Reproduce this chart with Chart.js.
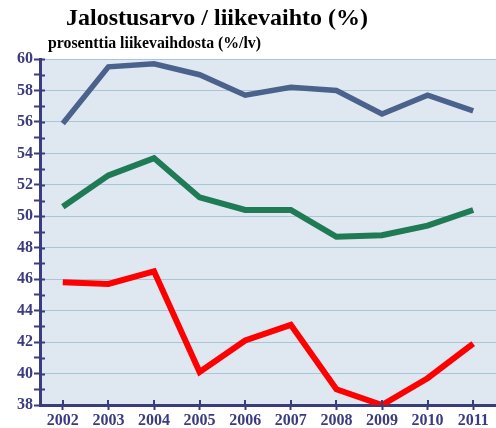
<!DOCTYPE html>
<html>
<head>
<meta charset="utf-8">
<script src="https://cdn.jsdelivr.net/npm/chart.js@4"></script>
<style>
  html, body { margin: 0; padding: 0; background: #fff; }
  #wrap { position: relative; width: 496px; height: 428px; }
  #title { position: absolute; left: 66px; top: 4px; font: bold 24px "Liberation Serif", "Times New Roman", serif; color: #000; white-space: nowrap; }
  #subtitle { position: absolute; left: 48px; top: 34px; font: bold 15.8px "Liberation Serif", "Times New Roman", serif; color: #000; white-space: nowrap; }
  canvas { position: absolute; left: 0; top: 0; }
</style>
</head>
<body>
<div id="wrap">
  <canvas id="chart" width="496" height="428"></canvas>
  <div id="title">Jalostusarvo / liikevaihto (%)</div>
  <div id="subtitle">prosenttia liikevaihdosta (%/lv)</div>
</div>
<script>
const years = ['2002', '2003', '2004', '2005', '2006', '2007', '2008', '2009', '2010', '2011'];
const seriesBlue = [55.9, 59.5, 59.7, 59.0, 57.7, 58.2, 58.0, 56.5, 57.7, 56.7];
const seriesGreen = [50.6, 52.6, 53.7, 51.2, 50.4, 50.4, 48.7, 48.8, 49.4, 50.4];
const seriesRed = [45.8, 45.7, 46.5, 40.1, 42.1, 43.1, 39.0, 38.0, 39.7, 41.9];
const yMin = 38;
const yMax = 60;

const axisColor = '#3b3b80';
const gridColor = '#a9c6d6';
const plotBg = '#dfe8f0';
const labelFont = { family: '"Liberation Serif", "Times New Roman", serif', size: 16, weight: 'bold' };

// fill the plot area and draw the short inward half of every tick mark
const plotDecor = {
  id: 'plotDecor',
  beforeDraw(chart) {
    const { ctx, chartArea: a } = chart;
    ctx.save();
    ctx.fillStyle = plotBg;
    ctx.fillRect(a.left, a.top, a.right - a.left, a.bottom - a.top);
    ctx.restore();
  },
  afterDraw(chart) {
    const { ctx, chartArea: a } = chart;
    const xs = chart.scales.x, ys = chart.scales.y;
    ctx.save();
    ctx.strokeStyle = axisColor;
    ctx.lineWidth = 2;
    ctx.beginPath();
    for (let v = yMin + 1; v <= yMax; v++) {
      const py = Math.round(ys.getPixelForValue(v)) + 0.5;
      ctx.moveTo(a.left, py);
      ctx.lineTo(a.left + 5, py);
    }
    years.forEach((y, i) => {
      const px = Math.round(xs.getPixelForValue(i));
      ctx.moveTo(px, a.bottom);
      ctx.lineTo(px, a.bottom - 5);
    });
    ctx.stroke();
    ctx.restore();
  }
};

const line = (data, color, width) => ({
  data: data,
  borderColor: color,
  borderWidth: width,
  pointRadius: 0,
  tension: 0,
  fill: false
});

new Chart(document.getElementById('chart'), {
  type: 'line',
  data: {
    labels: years,
    datasets: [
      line(seriesBlue, '#4a628c', 5.5),
      line(seriesGreen, '#1f7a56', 6),
      line(seriesRed, '#ff0000', 6)
    ]
  },
  options: {
    responsive: false,
    animation: false,
    layout: { padding: { top: 59, right: 0, left: 0, bottom: 0 } },
    plugins: {
      legend: { display: false },
      tooltip: { enabled: false }
    },
    scales: {
      x: {
        offset: true,
        afterFit: s => { s.height = 23; },
        grid: {
          offset: false,
          drawOnChartArea: false,
          tickLength: 5,
          tickColor: axisColor,
          tickWidth: 2
        },
        border: { color: axisColor, width: 3 },
        ticks: { color: axisColor, font: labelFont, padding: 1, maxRotation: 0 }
      },
      y: {
        min: yMin,
        max: yMax,
        afterFit: s => { s.width = 40; },
        grid: {
          color: ctx => (ctx.tick && ctx.tick.value % 2 === 0 ? gridColor : 'rgba(0,0,0,0)'),
          lineWidth: 1,
          tickLength: 6,
          tickColor: axisColor,
          tickWidth: 2
        },
        border: { color: axisColor, width: 3 },
        ticks: {
          stepSize: 1,
          autoSkip: false,
          color: axisColor,
          font: labelFont,
          padding: 1,
          callback: v => (v % 2 === 0 ? String(v) : '')
        }
      }
    }
  },
  plugins: [plotDecor]
});
</script>
</body>
</html>
